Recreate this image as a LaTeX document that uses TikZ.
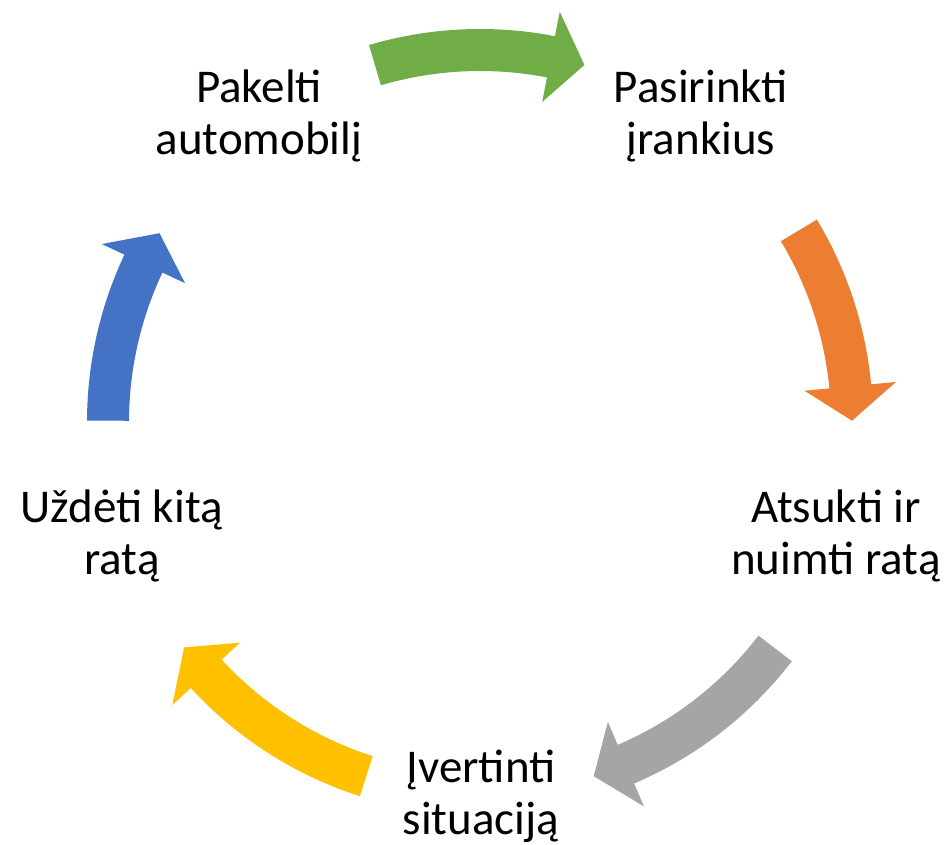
\documentclass[tikz,border=0pt]{standalone}
\usepackage{fontspec}
\setmainfont{Carlito}
\definecolor{cgreen}{HTML}{70AD47}
\definecolor{corange}{HTML}{ED7D31}
\definecolor{cgray}{HTML}{A5A5A5}
\definecolor{cyellow}{HTML}{FFC000}
\definecolor{cblue}{HTML}{4472C4}
% #1 tail angle, #2 tip angle, #3 colour
\newcommand{\cycarrow}[3]{%
  \pgfmathsetmacro{\angA}{#1}%
  \pgfmathsetmacro{\angB}{#2+5.3}%
  \pgfmathsetmacro{\angT}{#2}%
  \fill[#3] (\angA:393pt) arc[start angle=\angA, end angle=\angB, radius=393pt]
    -- (\angB:418pt) -- (\angT:372pt) -- (\angB:326pt) -- (\angB:351pt)
    arc[start angle=\angB, end angle=\angA, radius=351pt] -- cycle;
}
\tikzset{lbl/.style={align=center, inner sep=0pt, font=\fontsize{47}{52}\selectfont, text=black}}
\begin{document}
\begin{tikzpicture}[x=1pt,y=1pt]
\useasboundingbox (0,0) rectangle (951,845);
\begin{scope}[shift={(480,423)}]
  \cycarrow{106.4}{73.7}{cgreen}
  \cycarrow{31}{0.2}{corange}
  \cycarrow{-37.5}{-72.2}{cgray}
  \cycarrow{-107.8}{-142.7}{cyellow}
  \cycarrow{179.8}{149.5}{cblue}
\end{scope}
\node[lbl] (p1) at (259,729) {Pakelti\\automobilį};
\node[lbl] (p2) at (701,729) {Pasirinkti\\įrankius};
\node[lbl] (p3) at (836,309) {Atsukti ir\\nuimti ratą};
\node[lbl] (p4) at (481,49) {Įvertinti\\situaciją};
\node[lbl] (p5) at (122,309) {Uždėti kitą\\ratą};
\end{tikzpicture}
\end{document}
